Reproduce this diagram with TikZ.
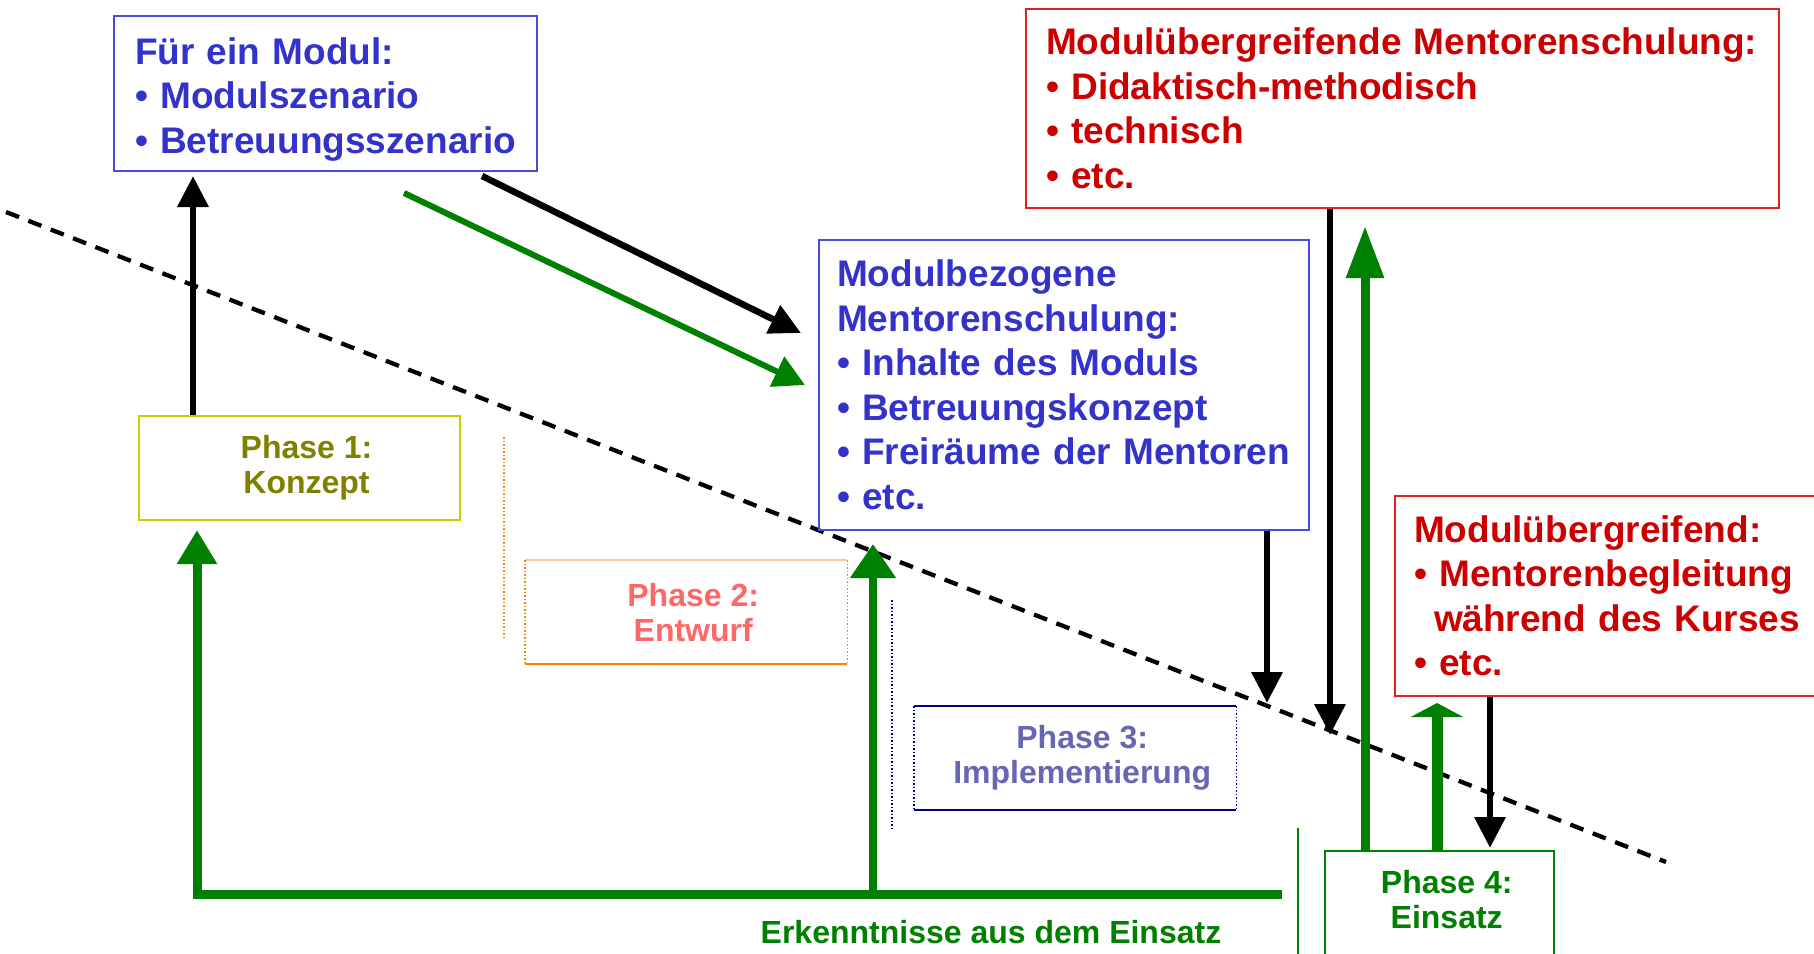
\documentclass[tikz,border=0pt]{standalone}
\usepackage{fontspec}
\setmainfont{Liberation Sans}
\usetikzlibrary{arrows.meta}
\definecolor{tblue}{HTML}{3333CC}
\definecolor{bblue}{HTML}{4A4ADF}
\definecolor{tred}{HTML}{CC0000}
\definecolor{bred}{HTML}{DD2222}
\definecolor{olv}{HTML}{808000}
\definecolor{yel}{HTML}{CCCC00}
\definecolor{grn}{HTML}{008000}
\definecolor{org}{HTML}{FF8000}
\definecolor{peach}{HTML}{F8C8A0}
\definecolor{nav}{HTML}{000080}
\newcommand{\ps}{\hspace*{14pt}}
\begin{document}
\begin{tikzpicture}[x=1pt,y=-1pt,
  bigbox/.style={anchor=north west, align=left, inner ysep=0pt, inner xsep=21pt,
    font=\fontsize{37}{44.5}\selectfont\bfseries, line width=2pt},
  phbox/.style={anchor=north west, align=center, inner sep=0pt,
    font=\fontsize{32}{35}\selectfont\bfseries, minimum width=322pt, minimum height=104pt},
  blk/.style={draw=black, line width=6.5pt, -{Triangle[length=31pt,width=30pt]}},
  grnar/.style={draw=grn, line width=8pt, -{Triangle[length=34pt,width=40pt]}}]
\useasboundingbox (0,0) rectangle (1814,953);
\fill[white] (0,0) rectangle (1814,953);
\clip (0,0) rectangle (1814,953);

% dashed boundary
\coordinate (d1) at (6,212);
\coordinate (d2) at (1666,862);
\draw[black, line width=4.3pt, dash pattern=on 14pt off 10pt] (d1) -- (d2);

% boxes
\node[bigbox, draw=bblue, text=tblue, text width=381pt, minimum height=155pt] (A) at (113,15)
  {\rule{0pt}{38pt}Für ein Modul:\\• Modulszenario\\• Betreuungsszenario};
\node[bigbox, inner xsep=18pt, draw=bblue, text=tblue, text width=454pt, minimum height=290pt] (B) at (818,239)
  {Modulbezogene\\Mentorenschulung:\\• Inhalte des Moduls\\• Betreuungskonzept\\• Freiräume der Mentoren\\• etc.};
\node[bigbox, inner xsep=20pt, draw=bred, text=tred, text width=713pt, minimum height=199pt] (C) at (1025,8)
  {Modulübergreifende Mentorenschulung:\\• Didaktisch-methodisch\\• technisch\\• etc.};
\node[bigbox, inner xsep=19pt, draw=bred, text=tred, text width=400pt, minimum height=200pt] (D) at (1394,495)
  {Modulübergreifend:\\• Mentorenbegleitung\\\hspace*{20pt}während des Kurses\\• etc.};

% phases
\node[phbox, draw=yel, line width=2pt, text=olv, minimum width=321pt] (p1) at (138,415) {\ps Phase 1:\\\ps Konzept};
\node[phbox, text=red, text opacity=0.6] (p2) at (525,560) {\ps Phase 2:\\\ps Entwurf};
\node[phbox, text=nav, text opacity=0.6] (p3) at (914,706) {\ps Phase 3:\\\ps Implementierung};
\node[phbox, text=grn, minimum width=229pt, minimum height=96pt] (p4) at (1325,851) {\ps Phase 4:\\\ps Einsatz};

% phase 2 frame
\draw[peach, line width=1.5pt] (p2.north west) -- (p2.north east);
\draw[org, line width=2pt] (p2.south west) -- (p2.south east);
\draw[org, line width=1.5pt, dotted] (p2.north west) -- (p2.south west);
\draw[org, line width=1.5pt, dotted] (p2.north east) -- (p2.south east);
\coordinate (o1) at (504,437);
\coordinate (o2) at (504,640);
\draw[org, line width=1.5pt, dotted] (o1) -- (o2);

% phase 3 frame
\draw[nav, line width=2pt] (p3.north west) -- (p3.north east);
\draw[nav, line width=2pt] (p3.south west) -- (p3.south east);
\draw[nav, line width=1.5pt, dotted] (p3.north west) -- (p3.south west);
\draw[nav, line width=1.5pt, dotted] (p3.north east) -- (p3.south east);
\coordinate (n1) at (892,600);
\coordinate (n2) at (892,828);
\draw[nav, line width=1.5pt, dotted] (n1) -- (n2);

% phase 4 frame (runs off the bottom) and side line
\coordinate (q1) at (1298,828);
\coordinate (q2) at (1298,960);
\draw[grn, line width=2pt] (p4.west |- q2) -- (p4.north west) -- (p4.north east) -- (p4.east |- q2);
\draw[grn, line width=2pt] (q1) -- (q2);

% label
\node[font=\fontsize{32}{35}\selectfont\bfseries, text=grn] (erk) at (991,932) {Erkenntnisse aus dem Einsatz};

% arrows
\coordinate (a1) at (193,176);
\draw[blk] (p1.north -| a1) -- (a1);

\coordinate (b1) at (482,176);
\coordinate (b2) at (801,333);
\draw[blk] (b1) -- (b2);
\coordinate (c1) at (404,193);
\coordinate (c2) at (805,385);
\draw[draw=grn, line width=6pt, -{Triangle[length=31pt,width=32pt]}] (c1) -- (c2);

% feedback loop
\coordinate (g0) at (1282,894);
\coordinate (g1) at (197,894);
\coordinate (g2) at (197,530);
\coordinate (g3) at (873,894);
\coordinate (g4) at (873,544);
\draw[grnar, line width=9pt, -{Triangle[length=34pt,width=38pt]}] (g0) -- (g1) -- (g2);
\draw[grnar, -{Triangle[length=34pt,width=44pt]}] (g3) -- (g4);

% right arrows
\coordinate (e1) at (1267,703);
\draw[blk] (B.south -| e1) -- (e1);
\coordinate (e2) at (1330,735);
\draw[blk] (C.south -| e2) -- (e2);
\coordinate (e3) at (1365,226);
\draw[draw=grn, line width=9pt, -{Triangle[length=52pt,width=36pt]}] (p4.north -| e3) -- (e3);
\coordinate (e4) at (1437,703);
\draw[draw=grn, line width=11pt, -{Triangle[length=14pt,width=52pt]}] (p4.north -| e4) -- (e4);
\coordinate (e5) at (1490,848);
\draw[blk] (D.south -| e5) -- (e5);
\end{tikzpicture}
\end{document}
